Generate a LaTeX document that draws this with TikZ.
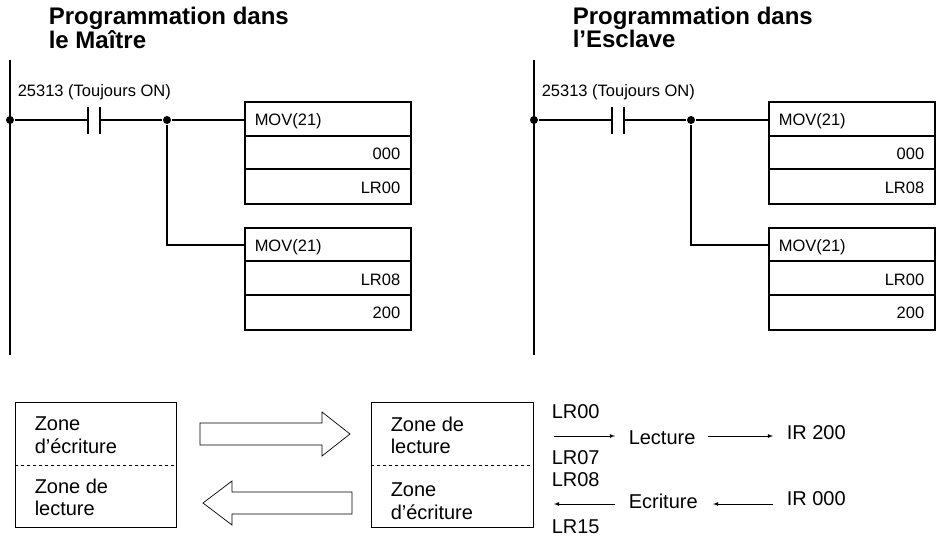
\documentclass[tikz,border=0pt]{standalone}
\usepackage{fontspec}
\setmainfont{Liberation Sans}
\begin{document}
\begin{tikzpicture}[x=1pt,y=-1pt,line width=1.5pt,
  txt/.style={font=\fontsize{16.5}{18}\selectfont,inner sep=0pt},
  big/.style={font=\fontsize{20}{22}\selectfont,inner sep=0pt},
  ttl/.style={font=\bfseries\fontsize{24}{22}\selectfont,align=left,inner sep=0pt,anchor=north west},
  dot/.style={circle,fill,inner sep=0pt,minimum size=8pt},
  thin/.style={line width=0.8pt},
  hol/.style={line width=0.7pt}]
\useasboundingbox (0,0) rectangle (945,540);
\foreach \o/\t/\a/\b/\c/\d in {0/le Maître/000/LR00/LR08/200, 524/l'Esclave/000/LR08/LR00/200}{
  \begin{scope}[xshift=\o]
  \node[ttl] (t\o) at (48,6) {Programmation dans\\\t};
  \draw (10,60) -- (10,355);
  \node[dot] (l\o) at (10,120) {};
  \node[dot] (j\o) at (167,120) {};
  \coordinate (c1\o) at (88,120); \coordinate (c2\o) at (100,120);
  \draw (l\o) -- (c1\o) (c2\o) -- (j\o) -- (245,120);
  \draw (88,107) -- (88,134) (100,107) -- (100,134);
  \draw (j\o) |- (245,245);
  \node[txt,anchor=south west] (lab\o) at (17,101) {25313 (Toujours ON)};
  \draw (245,102) rectangle (411,204) (245,136) -- (411,136) (245,169) -- (411,169);
  \draw (245,228) rectangle (411,330) (245,261) -- (411,261) (245,295) -- (411,295);
  \node[txt,anchor=west] (m1\o) at (254,121) {MOV(21)};
  \node[txt,anchor=east] (a\o) at (401,154) {\a};
  \node[txt,anchor=east] (b\o) at (401,188) {\b};
  \node[txt,anchor=west] (m2\o) at (254,247) {MOV(21)};
  \node[txt,anchor=east] (c\o) at (401,280) {\c};
  \node[txt,anchor=east] (d\o) at (401,313) {\d};
  \end{scope}}
% bottom boxes
\draw[thin] (15,402) rectangle (176,527);
\draw[thin,dashed] (15,465) -- (176,465);
\draw[thin] (371,402) rectangle (533,527);
\draw[thin,dashed] (371,465) -- (533,465);
\node[big,anchor=west] (z1) at (34,424) {Zone};
\node[big,anchor=west] (z2) at (34,446) {d’écriture};
\node[big,anchor=west] (z3) at (34,486) {Zone de};
\node[big,anchor=west] (z4) at (34,508) {lecture};
\node[big,anchor=west] (z5) at (390,424) {Zone de};
\node[big,anchor=west] (z6) at (390,446) {lecture};
\node[big,anchor=west] (z7) at (390,490) {Zone};
\node[big,anchor=west] (z8) at (390,512) {d’écriture};
\draw[hol] (200,423) -- (322,423) -- (322,412) -- (350,434) -- (322,456) -- (322,445) -- (200,445) -- cycle;
\draw[hol] (352,492) -- (232,492) -- (232,481) -- (203,503) -- (232,525) -- (232,514) -- (352,514) -- cycle;
% right text
\node[big,anchor=west] (r1) at (551,412) {LR00};
\node[big,anchor=west] (r2) at (551,458) {LR07};
\node[big,anchor=west] (r3) at (551,480) {LR08};
\node[big,anchor=west] (r4) at (551,527) {LR15};
\node[big,anchor=west] (le) at (628,438) {Lecture};
\node[big,anchor=west] (ec) at (628,501) {Ecriture};
\node[big,anchor=west] (i2) at (786,433) {IR 200};
\node[big,anchor=west] (i0) at (786,499) {IR 000};
\coordinate (p1) at (554,436); \coordinate (p2) at (615,436);
\coordinate (p3) at (554,504); \coordinate (p4) at (615,504);
\coordinate (q1) at (708,436); \coordinate (q2) at (773,436);
\coordinate (q3) at (713,504); \coordinate (q4) at (773,504);
\draw[thin,-latex] (p1) -- (p2);
\draw[thin,-latex] (p4) -- (p3);
\draw[thin,-latex] (q1) -- (q2);
\draw[thin,-latex] (q4) -- (q3);
\end{tikzpicture}
\end{document}
